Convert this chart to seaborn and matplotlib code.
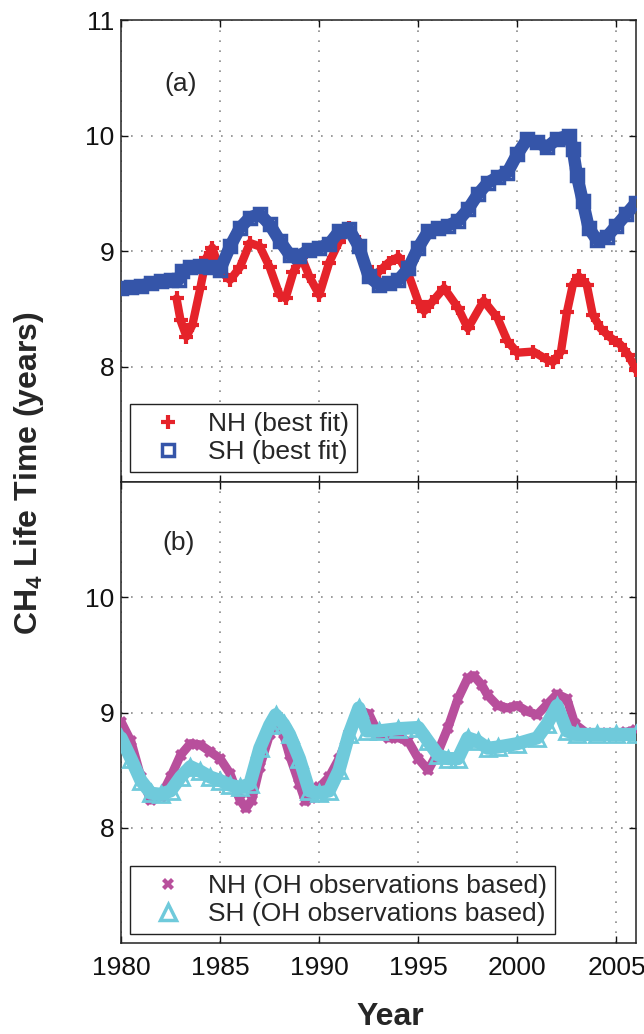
import numpy as np
import pandas as pd
import matplotlib
matplotlib.use("Agg")
import matplotlib.pyplot as plt
from matplotlib.lines import Line2D
import seaborn as sns

# ---------------- data ----------------
sh_fit_year = [1980, 1980.5, 1981, 1981.5, 1982, 1982.5, 1982.9, 1983.1, 1983.5, 1984, 1984.5,
               1985, 1985.5, 1986, 1986.5, 1987, 1987.5, 1988, 1988.5, 1989, 1989.5, 1990,
               1990.5, 1991, 1991.5, 1992, 1992.5, 1993, 1993.5, 1994, 1994.5, 1995, 1995.5,
               1996, 1996.5, 1997, 1997.5, 1998, 1998.5, 1999, 1999.5, 2000, 2000.5, 2001,
               2001.5, 2002, 2002.6, 2002.8, 2003.0, 2003.3, 2003.6, 2004.0, 2004.5, 2005,
               2005.5, 2006]
sh_fit = [8.68, 8.69, 8.70, 8.72, 8.74, 8.75, 8.75, 8.83, 8.86, 8.87, 8.86,
          8.84, 9.04, 9.20, 9.29, 9.32, 9.23, 9.09, 8.97, 8.96, 9.01, 9.03,
          9.06, 9.17, 9.19, 9.04, 8.78, 8.71, 8.72, 8.75, 8.85, 9.03, 9.17,
          9.20, 9.22, 9.26, 9.36, 9.49, 9.59, 9.64, 9.68, 9.84, 9.97, 9.94,
          9.90, 9.97, 10.0, 9.88, 9.66, 9.43, 9.20, 9.10, 9.12, 9.22,
          9.32, 9.42]

nh_fit_year = [1982.8, 1983.0, 1983.3, 1983.6, 1984.0, 1984.3, 1984.6, 1985.0, 1985.5, 1986.0,
               1986.5, 1987.0, 1987.5, 1988.0, 1988.3, 1988.7, 1989.1, 1989.5, 1990.0, 1990.5,
               1991.0, 1991.5, 1992.0, 1992.4, 1992.7, 1993.0, 1993.5, 1994.0, 1994.5, 1995.0,
               1995.3, 1995.7, 1996.3, 1997.0, 1997.5, 1998.3, 1999.0, 1999.5, 2000.0, 2000.8,
               2001.5, 2001.8, 2002.2, 2002.5, 2002.8, 2003.1, 2003.5, 2003.8, 2004.2, 2004.7,
               2005.2, 2005.6, 2006.0]
nh_fit = [8.59, 8.40, 8.26, 8.36, 8.68, 8.94, 9.03, 8.83, 8.75, 8.86,
          9.07, 9.04, 8.86, 8.62, 8.59, 8.82, 8.95, 8.78, 8.62, 8.90,
          9.08, 9.20, 9.08, 8.86, 8.77, 8.82, 8.90, 8.95, 8.80, 8.56,
          8.48, 8.56, 8.68, 8.51, 8.33, 8.57, 8.42, 8.22, 8.12, 8.13,
          8.06, 8.04, 8.13, 8.47, 8.71, 8.78, 8.71, 8.45, 8.33, 8.25,
          8.19, 8.10, 7.97]

nh_oh_year = [1980.0, 1980.5, 1981.0, 1981.5, 1982.0, 1982.5, 1983.0, 1983.5, 1984.0, 1984.5,
              1985.0, 1985.5, 1986.0, 1986.3, 1986.6, 1987.0, 1987.5, 1987.8, 1988.2, 1988.5,
              1989.0, 1989.3, 1989.6, 1990.0, 1990.5, 1991.0, 1991.5, 1992.0, 1992.5, 1993.0,
              1993.5, 1994.0, 1994.5, 1995.0, 1995.5, 1996.0, 1996.5, 1997.0, 1997.5, 1997.8,
              1998.2, 1998.5, 1999.0, 1999.5, 2000.0, 2000.5, 2001.0, 2001.5, 2002.0, 2002.5,
              2002.9, 2003.5, 2004.5, 2005.5, 2006.0]
nh_oh = [8.92, 8.75, 8.44, 8.24, 8.27, 8.44, 8.63, 8.73, 8.72, 8.66,
         8.60, 8.47, 8.24, 8.17, 8.24, 8.53, 8.81, 8.90, 8.81, 8.63,
         8.38, 8.23, 8.26, 8.35, 8.44, 8.60, 8.81, 9.02, 8.99, 8.81,
         8.78, 8.78, 8.75, 8.60, 8.50, 8.66, 8.87, 9.12, 9.30, 9.32,
         9.24, 9.15, 9.06, 9.04, 9.06, 9.01, 8.98, 9.07, 9.16, 9.12,
         8.90, 8.82, 8.82, 8.83, 8.85]

sh_oh_year = [1980.0, 1980.5, 1981.0, 1981.5, 1982.0, 1982.5, 1983.0, 1983.5, 1984.0, 1984.5,
              1985.0, 1985.5, 1986.0, 1986.5, 1987.0, 1987.5, 1987.8, 1988.2, 1988.5, 1989.0,
              1989.5, 1990.0, 1990.5, 1991.0, 1991.5, 1992.0, 1992.4, 1993.0, 1994.0, 1995.0,
              1995.5, 1996.0, 1996.5, 1997.0, 1997.5, 1998.0, 1998.5, 1999.0, 2000.0, 2001.0,
              2001.5, 2002.0, 2002.5, 2003.0, 2004.0, 2005.0, 2006.0]
sh_oh = [8.78, 8.60, 8.41, 8.30, 8.29, 8.32, 8.44, 8.53, 8.49, 8.44,
         8.41, 8.37, 8.35, 8.38, 8.69, 8.89, 8.98, 8.90, 8.81, 8.60,
         8.32, 8.30, 8.32, 8.50, 8.81, 9.04, 8.84, 8.84, 8.86, 8.87,
         8.75, 8.63, 8.60, 8.60, 8.78, 8.75, 8.69, 8.70, 8.73, 8.78,
         8.90, 9.06, 8.84, 8.81, 8.81, 8.81, 8.81]

x_ticks = [1980, 1985, 1990, 1995, 2000, 2005]
y_ticks_a = [8, 9, 10, 11]
y_ticks_b = [8, 9, 10]
labels_a = ["NH (best fit)", "SH (best fit)"]
labels_b = ["NH (OH observations based)", "SH (OH observations based)"]

RED = "#e5232a"
BLUE = "#3555a9"
MAGENTA = "#b84f9c"
CYAN = "#6fcadb"

# ---------------- style ----------------
sns.set_style("ticks")
plt.rcParams["font.family"] = ["Liberation Sans", "DejaVu Sans"]
plt.rcParams["mathtext.fontset"] = "custom"
plt.rcParams["mathtext.rm"] = "Liberation Sans"
plt.rcParams["mathtext.bf"] = "Liberation Sans:bold"

fig = plt.figure(figsize=(6.44, 10.34), dpi=100)
ax_a = fig.add_axes([0.188, 0.5338, 0.800, 0.4468])
ax_b = fig.add_axes([0.188, 0.0880, 0.800, 0.4458])

df_nh_fit = pd.DataFrame({"year": nh_fit_year, "life": nh_fit})
df_sh_fit = pd.DataFrame({"year": sh_fit_year, "life": sh_fit})
df_nh_oh = pd.DataFrame({"year": nh_oh_year, "life": nh_oh})
df_sh_oh = pd.DataFrame({"year": sh_oh_year, "life": sh_oh})

common = dict(solid_joinstyle="round", solid_capstyle="round", legend=False)

sns.lineplot(data=df_nh_fit, x="year", y="life", ax=ax_a, color=RED, linewidth=6,
             marker="+", markersize=10, markeredgewidth=3, markeredgecolor=RED, zorder=3, **common)
sns.lineplot(data=df_sh_fit, x="year", y="life", ax=ax_a, color=BLUE, linewidth=9,
             marker="s", markersize=9, markeredgewidth=2.5, markerfacecolor="none",
             markeredgecolor=BLUE, zorder=4, **common)

sns.lineplot(data=df_nh_oh, x="year", y="life", ax=ax_b, color=MAGENTA, linewidth=6.5,
             marker="X", markersize=9, markeredgewidth=0, markerfacecolor=MAGENTA, zorder=3, **common)
sns.lineplot(data=df_sh_oh, x="year", y="life", ax=ax_b, color=CYAN, linewidth=9.5,
             marker="^", markersize=11, markeredgewidth=2, markerfacecolor="none",
             markeredgecolor=CYAN, zorder=4, **common)

for ax, yt in ((ax_a, y_ticks_a), (ax_b, y_ticks_b)):
    ax.set_xlim(1980, 2006)
    ax.set_ylim(7, 11)
    ax.set_xticks(x_ticks)
    ax.set_yticks(yt)
    ax.set_xlabel("")
    ax.set_ylabel("")
    ax.grid(True, color="#8a8a8a", linestyle=(0, (1, 5)), linewidth=1.2)
    ax.tick_params(direction="in", top=True, right=True, length=5, width=1,
                   labelsize=19, colors="#111111")
    ax.tick_params(axis="x", pad=9)
    ax.tick_params(axis="y", pad=5)
    for s in ax.spines.values():
        s.set_color("#222222")
        s.set_linewidth(1.1)
        s.set_visible(True)

ax_a.tick_params(axis="x", labelbottom=False)

ax_a.text(1983.0, 10.45, "(a)", fontsize=19, ha="center", va="center")
ax_b.text(1982.9, 10.47, "(b)", fontsize=19, ha="center", va="center")

leg_kw = dict(loc="lower left", frameon=True, fancybox=False, framealpha=1,
              edgecolor="#222222", fontsize=19, borderpad=0.3, handlelength=2.3,
              handletextpad=0.35, labelspacing=0.15, borderaxespad=0, numpoints=1)

h_a = [Line2D([], [], ls="none", marker="+", color=RED, markersize=10, markeredgewidth=3),
       Line2D([], [], ls="none", marker="s", color=BLUE, markersize=8, markeredgewidth=2.5,
              markerfacecolor="white")]
leg_a = ax_a.legend(h_a, labels_a, bbox_to_anchor=(0.017, 0.0225), **leg_kw)
leg_a.get_frame().set_linewidth(1.0)

h_b = [Line2D([], [], ls="none", marker="X", color=MAGENTA, markersize=9, markeredgewidth=0),
       Line2D([], [], ls="none", marker="^", color=CYAN, markersize=12, markeredgewidth=2.5,
              markerfacecolor="white")]
leg_b = ax_b.legend(h_b, labels_b, bbox_to_anchor=(0.017, 0.0200), **leg_kw)
leg_b.get_frame().set_linewidth(1.0)

fig.text(0.045, 0.542, r"CH$_\mathbf{4}$ Life Time (years)", rotation=90, fontsize=23,
         fontweight="bold", ha="center", va="center")
fig.text(0.606, 0.0165, "Year", fontsize=23, fontweight="bold", ha="center", va="center")

fig.savefig("out.png", dpi=100)
